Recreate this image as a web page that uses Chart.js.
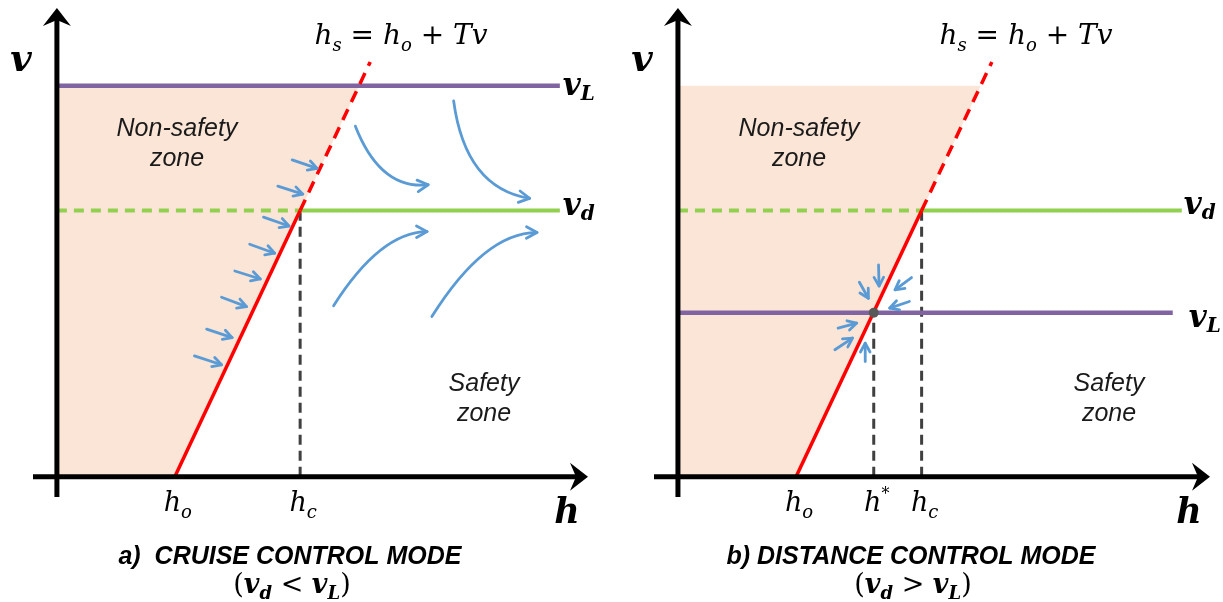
<!DOCTYPE html>
<html>
<head>
<meta charset="utf-8">
<script src="https://cdn.jsdelivr.net/npm/chart.js@4/dist/chart.umd.min.js"></script>
<style>
  body { margin: 0; background: #fff; }
  #wrap { position: relative; width: 1223px; height: 602px; }
  canvas { position: absolute; top: 0; }
  #cruise { left: 0; }
  #distance { left: 612px; }
</style>
</head>
<body>
<div id="wrap">
  <canvas id="cruise" width="612" height="602"></canvas>
  <canvas id="distance" width="611" height="602"></canvas>
</div>
<script>
// h = spacing, v = speed (diagram units)
const hMin = -0.45, hMax = 10;
const vMin = -0.43, vMax = 10;

const hZero = 2.22;       // h_o
const hCruise = 4.58;     // h_c
const hStar = 3.68;       // h*
const vDesired = 5.68;    // v_d
const vLeadA = 8.34;      // v_L, cruise mode
const vLeadB = 3.50;      // v_L, distance mode
const zoneTop = 8.34;     // top of non-safety zone
const zoneTopH = 5.69;
const hsEnd = [5.90, 8.85];   // end of dashed h_s line
const lineEnd = 9.47;
const leadEndB = 9.30;

// small arrows pushing toward h_s (cruise mode)
const cruiseNudgeFrom = [[4.43,6.76],[4.16,6.20],[3.89,5.54],[3.63,4.96],[3.35,4.39],[3.10,3.83],[2.82,3.15],[2.59,2.58]];
const cruiseNudgeTo   = [[4.90,6.58],[4.63,6.03],[4.37,5.35],[4.10,4.77],[3.83,4.22],[3.57,3.63],[3.30,2.97],[3.10,2.39]];
// trajectories converging on v_d
const cruiseFlowStart = [[5.62,7.48],[7.47,8.02],[5.21,3.65],[7.06,3.42]];
const cruiseFlowBend  = [[6.09,6.12],[7.69,6.16],[6.09,5.22],[8.06,5.22]];
const cruiseFlowEnd   = [[6.99,6.23],[8.90,5.94],[6.97,5.23],[9.04,5.21]];
// arrows converging on the equilibrium (distance mode)
const distNudgeFrom = [[3.77,4.52],[3.41,4.15],[4.39,4.25],[4.35,3.74],[3.01,3.17],[2.95,2.71],[3.52,2.46]];
const distNudgeTo   = [[3.78,4.07],[3.58,3.81],[4.08,3.99],[3.98,3.60],[3.36,3.28],[3.28,2.96],[3.52,2.85]];

const SERIF = '"DejaVu Serif"';
const SANS = '"Liberation Sans"';
const it = s => `italic ${s}px ${SERIF}`;
const bi = s => `bold italic ${s}px ${SERIF}`;
const up = s => `${s}px ${SERIF}`;

const PEACH = '#fbe5d6', PURPLE = '#8064a2', GREEN = '#92d050', RED = '#ff0000';
const BLUE = '#5b9bd5', GREY = '#404040';

function pts(arr) { return arr.map(([x, y]) => ({ x, y })); }

function seg(data, color, width, dash, order) {
  return {
    data: pts(data), showLine: true, borderColor: color, borderWidth: width,
    borderDash: dash || [], pointRadius: 0, fill: false, clip: false, order: order,
    borderCapStyle: 'butt'
  };
}

function runs(ctx, parts, x, y, align) {
  let w = 0;
  parts.forEach(p => { ctx.font = p.f; p.w = ctx.measureText(p.t).width; w += p.w; });
  let cx = align === 'center' ? x - w / 2 : x;
  ctx.textAlign = 'left';
  ctx.textBaseline = 'alphabetic';
  parts.forEach(p => { ctx.font = p.f; ctx.fillText(p.t, cx, y + (p.dy || 0)); cx += p.w; });
}

function vee(ctx, x, y, ang, len) {
  const s = 0.5;
  ctx.beginPath();
  ctx.moveTo(x - len * Math.cos(ang - s), y - len * Math.sin(ang - s));
  ctx.lineTo(x, y);
  ctx.lineTo(x - len * Math.cos(ang + s), y - len * Math.sin(ang + s));
  ctx.stroke();
}

function axisHead(ctx, x, y, ang) {
  ctx.save();
  ctx.translate(x, y);
  ctx.rotate(ang);
  ctx.beginPath();
  ctx.moveTo(0, 0);
  ctx.lineTo(-18, -14);
  ctx.lineTo(-12, 0);
  ctx.lineTo(-18, 14);
  ctx.closePath();
  ctx.fill();
  ctx.restore();
}

function sub(t, base, dy) { return { t: t, f: it(Math.round(base * 0.66)), dy: dy }; }

function diagramPlugin(spec) {
  return {
    id: 'diagram',
    afterDatasetsDraw(chart) {
      const ctx = chart.ctx;
      const X = v => chart.scales.x.getPixelForValue(v);
      const Y = v => chart.scales.y.getPixelForValue(v);
      ctx.save();

      // blue arrows
      ctx.strokeStyle = BLUE;
      ctx.lineWidth = 2.8;
      ctx.lineCap = 'round';
      ctx.lineJoin = 'round';
      spec.nudgeFrom.forEach((a, i) => {
        const b = spec.nudgeTo[i];
        const x0 = X(a[0]), y0 = Y(a[1]), x1 = X(b[0]), y1 = Y(b[1]);
        ctx.beginPath(); ctx.moveTo(x0, y0); ctx.lineTo(x1, y1); ctx.stroke();
        vee(ctx, x1, y1, Math.atan2(y1 - y0, x1 - x0), 10);
      });
      (spec.flowStart || []).forEach((a, i) => {
        const c = spec.flowBend[i], b = spec.flowEnd[i];
        const x0 = X(a[0]), y0 = Y(a[1]), cx = X(c[0]), cy = Y(c[1]), x1 = X(b[0]), y1 = Y(b[1]);
        ctx.beginPath(); ctx.moveTo(x0, y0); ctx.quadraticCurveTo(cx, cy, x1, y1); ctx.stroke();
        vee(ctx, x1, y1, Math.atan2(y1 - cy, x1 - cx), 12);
      });

      // axes with arrow heads
      ctx.strokeStyle = '#000';
      ctx.fillStyle = '#000';
      ctx.lineWidth = 5;
      ctx.lineCap = 'butt';
      const ox = X(0), oy = Y(0);
      ctx.beginPath(); ctx.moveTo(ox, Y(vMin)); ctx.lineTo(ox, Y(vMax) + 12); ctx.stroke();
      ctx.beginPath(); ctx.moveTo(X(hMin), oy); ctx.lineTo(X(hMax) - 12, oy); ctx.stroke();
      axisHead(ctx, ox, Y(vMax), -Math.PI / 2);
      axisHead(ctx, X(hMax), oy, 0);
      ctx.restore();
    },
    afterDraw(chart) {
      const ctx = chart.ctx;
      const X = v => chart.scales.x.getPixelForValue(v);
      const Y = v => chart.scales.y.getPixelForValue(v);
      ctx.save();
      ctx.fillStyle = '#000';

      // axis names
      runs(ctx, [{ t: 'v', f: bi(37) }], X(0) - 36, 71, 'center');
      runs(ctx, [{ t: 'h', f: bi(35) }], X(hMax) - 21, 523, 'center');

      // ticks under the h axis
      spec.ticks.forEach(([h, s, kind]) => {
        const parts = [{ t: 'h', f: it(27) }];
        if (kind === 'sup') parts.push({ t: s, f: up(16), dy: -12 });
        else parts.push(sub(s, 27, 7));
        runs(ctx, parts, X(h) + 3, 511, 'center');
      });

      // line labels
      spec.lineLabels.forEach(([h, v, s, dx, dy]) => {
        runs(ctx, [{ t: 'v', f: bi(31) }, { t: s, f: bi(20), dy: 5 }], X(h) + dx, Y(v) + dy, 'left');
      });

      // h_s = h_o + Tv
      runs(ctx, [
        { t: 'h', f: it(28) }, sub('s', 28, 7), { t: ' = ', f: up(28) },
        { t: 'h', f: it(28) }, sub('o', 28, 7), { t: ' + ', f: up(28) },
        { t: 'Tv', f: it(28) }
      ], spec.eqX, 44, 'center');

      // zone names
      ctx.fillStyle = '#1a1a1a';
      ctx.font = `italic 25px ${SANS}`;
      ctx.textAlign = 'center';
      ctx.fillText('Non-safety', spec.unsafe[0], spec.unsafe[1]);
      ctx.fillText('zone', spec.unsafe[0], spec.unsafe[1] + 30);
      ctx.fillText('Safety', spec.safe[0], spec.safe[1]);
      ctx.fillText('zone', spec.safe[0], spec.safe[1] + 30);

      // caption
      ctx.fillStyle = '#000';
      ctx.font = `bold italic 25px ${SANS}`;
      ctx.fillText(spec.title, spec.titleX, 564);
      runs(ctx, [
        { t: '(', f: up(27) }, { t: 'v', f: bi(27) }, { t: 'd', f: bi(18), dy: 6 },
        { t: spec.rel, f: up(27) }, { t: 'v', f: bi(27) }, { t: 'L', f: bi(18), dy: 6 },
        { t: ')', f: up(27) }
      ], spec.titleX + 2, 593, 'center');
      ctx.restore();
    }
  };
}

function makeChart(id, datasets, pad, spec) {
  return new Chart(document.getElementById(id), {
    type: 'scatter',
    data: { datasets: datasets },
    options: {
      responsive: false,
      animation: false,
      layout: { padding: pad },
      plugins: { legend: { display: false }, tooltip: { enabled: false } },
      scales: {
        x: { type: 'linear', min: hMin, max: hMax, display: false },
        y: { type: 'linear', min: vMin, max: vMax, display: false }
      }
    },
    plugins: [diagramPlugin(spec)]
  });
}

const shade = {
  data: pts([[0, 0], [hZero, 0], [zoneTopH, zoneTop], [0, zoneTop]]),
  showLine: true, borderWidth: 0, pointRadius: 0, fill: 'shape',
  backgroundColor: PEACH, borderColor: PEACH, order: 10
};

// a) cruise control mode
makeChart('cruise', [
  seg([[hZero, 0], [hCruise, vDesired]], RED, 3.5, null, 2),
  seg([[hCruise, vDesired], hsEnd], RED, 3.5, [12, 8], 2),
  seg([[0, vLeadA], [lineEnd, vLeadA]], PURPLE, 4.5, null, 3),
  seg([[0, vDesired], [hCruise, vDesired]], GREEN, 4, [10, 7], 4),
  seg([[hCruise, vDesired], [lineEnd, vDesired]], GREEN, 4, null, 4),
  seg([[hCruise, 0], [hCruise, vDesired]], GREY, 3, [10, 6], 5),
  Object.assign({}, shade)
], { left: 33, right: 24, top: 8, bottom: 105 }, {
  nudgeFrom: cruiseNudgeFrom, nudgeTo: cruiseNudgeTo,
  flowStart: cruiseFlowStart, flowBend: cruiseFlowBend, flowEnd: cruiseFlowEnd,
  ticks: [[hZero, 'o', 'sub'], [hCruise, 'c', 'sub']],
  lineLabels: [[lineEnd, vLeadA, 'L', 3, 9], [lineEnd, vDesired, 'd', 3, 4]],
  eqX: 401, unsafe: [177, 136], safe: [484, 391],
  title: 'a)  CRUISE CONTROL MODE', titleX: 290, rel: ' < '
});

// b) distance control mode
makeChart('distance', [
  { data: pts([[hStar, vLeadB]]), pointRadius: 5, pointBackgroundColor: '#595959',
    pointBorderWidth: 0, showLine: false, clip: false, order: 1 },
  seg([[hZero, 0], [hCruise, vDesired]], RED, 3.5, null, 2),
  seg([[hCruise, vDesired], hsEnd], RED, 3.5, [12, 8], 2),
  seg([[0, vLeadB], [leadEndB, vLeadB]], PURPLE, 4.5, null, 3),
  seg([[0, vDesired], [hCruise, vDesired]], GREEN, 4, [10, 7], 4),
  seg([[hCruise, vDesired], [lineEnd, vDesired]], GREEN, 4, null, 4),
  seg([[hStar, 0], [hStar, vLeadB]], GREY, 3, [10, 6], 5),
  seg([[hCruise, 0], [hCruise, vDesired]], GREY, 3, [10, 6], 5),
  Object.assign({}, shade)
], { left: 42, right: 13, top: 8, bottom: 105 }, {
  nudgeFrom: distNudgeFrom, nudgeTo: distNudgeTo,
  ticks: [[hZero, 'o', 'sub'], [hStar, '*', 'sup'], [hCruise, 'c', 'sub']],
  lineLabels: [[lineEnd, vDesired, 'd', 2, 3], [leadEndB, vLeadB, 'L', 16, 14]],
  eqX: 414, unsafe: [187, 136], safe: [497, 391],
  title: 'b) DISTANCE CONTROL MODE', titleX: 299, rel: ' > '
});
</script>
</body>
</html>
